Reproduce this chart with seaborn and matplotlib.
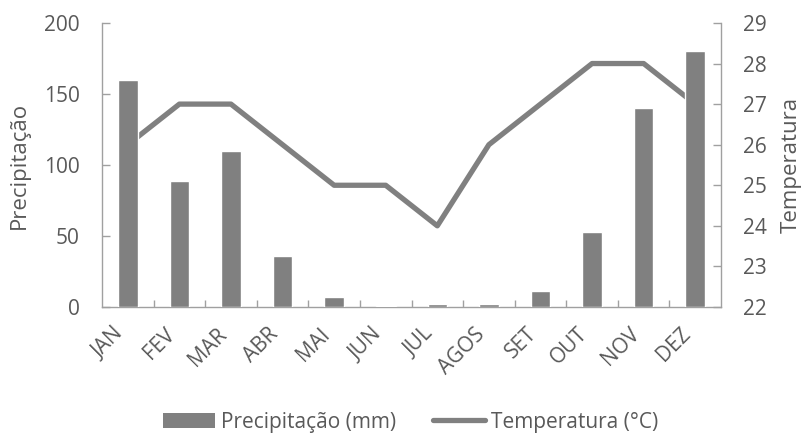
import numpy as np
import pandas as pd
import matplotlib
matplotlib.use("Agg")
import matplotlib.pyplot as plt
import matplotlib.transforms as mtransforms
from matplotlib.ticker import FixedLocator
from matplotlib.patches import Patch
from matplotlib.lines import Line2D
import seaborn as sns

# Monthly climate data
months = ["JAN", "FEV", "MAR", "ABR", "MAI", "JUN", "JUL", "AGOS", "SET", "OUT", "NOV", "DEZ"]
precipitation = [160, 89, 110, 36, 7, 1, 2, 2, 11, 53, 140, 180]
temperature = [26, 27, 27, 26, 25, 25, 24, 26, 27, 28, 28, 27]

precip_ticks = [0, 50, 100, 150, 200]
temp_ticks = [22, 23, 24, 25, 26, 27, 28, 29]

sns.set_style("white")
plt.rcParams["font.family"] = ["Open Sans", "DejaVu Sans"]

text_color = "#595959"
axis_color = "#a0a0a0"
mark_color = "#808080"
fs = 15

fig = plt.figure(figsize=(8.05, 4.33), dpi=100)
ax = fig.add_axes([0.1267, 0.291, 0.769, 0.656])
ax2 = ax.twinx()

df = pd.DataFrame({"mes": months, "precip": precipitation, "temp": temperature})

sns.barplot(data=df, x="mes", y="precip", color=mark_color, saturation=1,
            width=0.38, ax=ax, zorder=3)
sns.lineplot(x=np.arange(len(months)), y=df["temp"], color=mark_color,
             linewidth=3.8, ax=ax2)

# bars drawn over the temperature line
ax.set_zorder(ax2.get_zorder() + 1)
ax.patch.set_visible(False)

ax.set_xlim(-0.5, len(months) - 0.5)
ax.set_ylim(0, 200)
ax2.set_ylim(22, 29)
ax.set_yticks(precip_ticks)
ax2.set_yticks(temp_ticks)

for a in (ax, ax2):
    for s in a.spines.values():
        s.set_visible(False)

ax.spines["left"].set_visible(True)
ax.spines["bottom"].set_visible(True)
ax2.spines["right"].set_visible(True)
for s in (ax.spines["left"], ax.spines["bottom"], ax2.spines["right"]):
    s.set_color(axis_color)
    s.set_linewidth(1.0)

ax.set_xticks(np.arange(len(months)))
ax.set_xticklabels(months, rotation=45, ha="right", va="top")
shift = mtransforms.ScaledTranslation(5 / 72, 0, fig.dpi_scale_trans)
for lbl in ax.get_xticklabels():
    lbl.set_transform(lbl.get_transform() + shift)
ax.xaxis.set_minor_locator(FixedLocator(np.arange(0.5, len(months) - 1, 1.0)))
ax.tick_params(axis="x", which="major", length=0, pad=12, labelsize=15,
               labelcolor=text_color)
ax.tick_params(axis="x", which="minor", direction="in", length=5,
               width=1, color=axis_color, bottom=True)
ax.tick_params(axis="y", direction="in", length=6, width=1, color=axis_color,
               labelsize=fs, labelcolor=text_color, pad=16, left=True)
ax2.tick_params(axis="y", direction="in", length=6, width=1, color=axis_color,
                labelsize=fs, labelcolor=text_color, pad=16, right=True)

ax.set_xlabel("")
ax.set_ylabel("Precipitação", fontsize=16, color=text_color, labelpad=10)
ax2.set_ylabel("Temperatura", fontsize=16, color=text_color, labelpad=10)

handles = [Patch(facecolor=mark_color, edgecolor="none"),
           Line2D([0], [0], color=mark_color, linewidth=3.8)]
fig.legend(handles, ["Precipitação (mm)", "Temperatura (°C)"],
           loc="center", bbox_to_anchor=(0.51, 0.025), ncol=2, frameon=False,
           fontsize=15, labelcolor=text_color, handlelength=2.5,
           handletextpad=0.25, columnspacing=1.8)

fig.savefig("out.png", dpi=100)
